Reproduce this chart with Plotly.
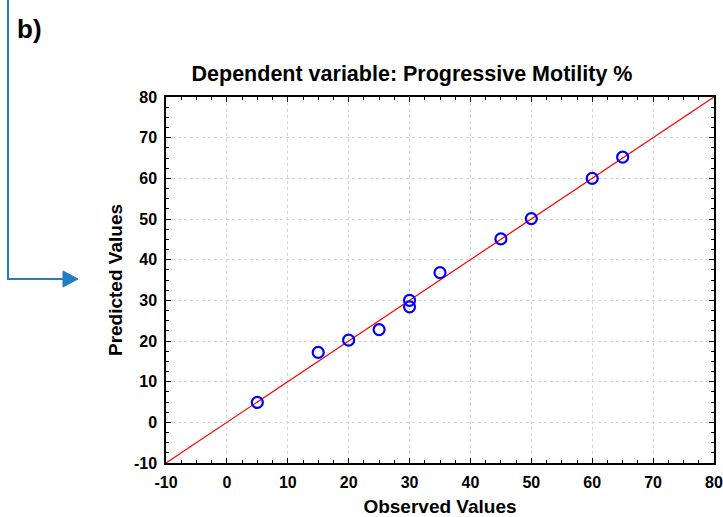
import plotly.graph_objects as go

observed = [5, 15, 20, 25, 30, 30, 35, 45, 50, 60, 65]
predicted = [4.9, 17.2, 20.2, 22.8, 30.0, 28.4, 36.8, 45.1, 50.1, 60.0, 65.2]
line_range = [-10, 80]
tick_vals = [-10, 0, 10, 20, 30, 40, 50, 60, 70, 80]
tick_text = ["-10", "0", "10", "20", "30", "40", "50", "60", "70", "80"]

FONT = "Liberation Sans, Arial, sans-serif"

fig = go.Figure()
fig.add_trace(go.Scatter(x=line_range, y=line_range, mode="lines",
                         line=dict(color="#ff0000", width=1.2), hoverinfo="skip",
                         showlegend=False))
fig.add_trace(go.Scatter(x=observed, y=predicted, mode="markers",
                         marker=dict(symbol="circle-open", size=11, color="#0000ff",
                                     line=dict(width=2.2, color="#0000ff")),
                         showlegend=False))

axis_common = dict(
    range=[-10, 80], tickvals=tick_vals, ticktext=tick_text, ticks="inside", ticklen=5,
    tickwidth=1, tickcolor="black", showline=True, linecolor="black", linewidth=1.5,
    mirror="ticks", showgrid=True, gridcolor="#d6d6d6", griddash="dot", gridwidth=1,
    zeroline=False, ticklabelstandoff=4, automargin=False,
    tickfont=dict(family=FONT, size=16, color="black", weight="bold"),
    minor=dict(ticks="inside", ticklen=3, tickcolor="black", dtick=2.5, showgrid=False),
)

fig.update_layout(
    width=723, height=517,
    margin=dict(l=166, r=9, t=97, b=54),
    plot_bgcolor="white", paper_bgcolor="white",
    title=dict(text="<b>Dependent variable: Progressive Motility %</b>",
               x=412 / 723, xanchor="center", y=1 - 73 / 517, yanchor="middle",
               font=dict(family=FONT, size=21.5, color="black")),
    xaxis=dict(**axis_common,
               title=dict(text="<b>Observed Values</b>", standoff=15,
                          font=dict(family=FONT, size=19, color="black"))),
    yaxis=dict(**axis_common,
               title=dict(text="<b>Predicted Values</b>", standoff=6,
                          font=dict(family=FONT, size=19, color="black"))),
)

# convert pixel coords to paper coords relative to plot area
pw, ph = 714 - 166, 463 - 97
def px(x):
    return (x - 166) / pw
def py(y):
    return (463 - y) / ph

# Panel label and decorative arrow
fig.add_annotation(text="<b>b)</b>", xref="paper", yref="paper", x=px(15),
                   y=py(29), showarrow=False, xanchor="left", yanchor="middle",
                   font=dict(family=FONT, size=26, color="black"))

fig.add_shape(type="path", xref="paper", yref="paper",
              path=f"M {px(8)} {py(-2)} L {px(8)} {py(279)} L {px(64)} {py(279)}",
              line=dict(color="#1f7fc4", width=2))
fig.add_shape(type="path", xref="paper", yref="paper",
              path=f"M {px(63)} {py(271)} L {px(78)} {py(279)} L {px(63)} {py(287)} Z",
              line=dict(color="#1f7fc4", width=1), fillcolor="#1f7fc4")

fig.write_html("out.html")
